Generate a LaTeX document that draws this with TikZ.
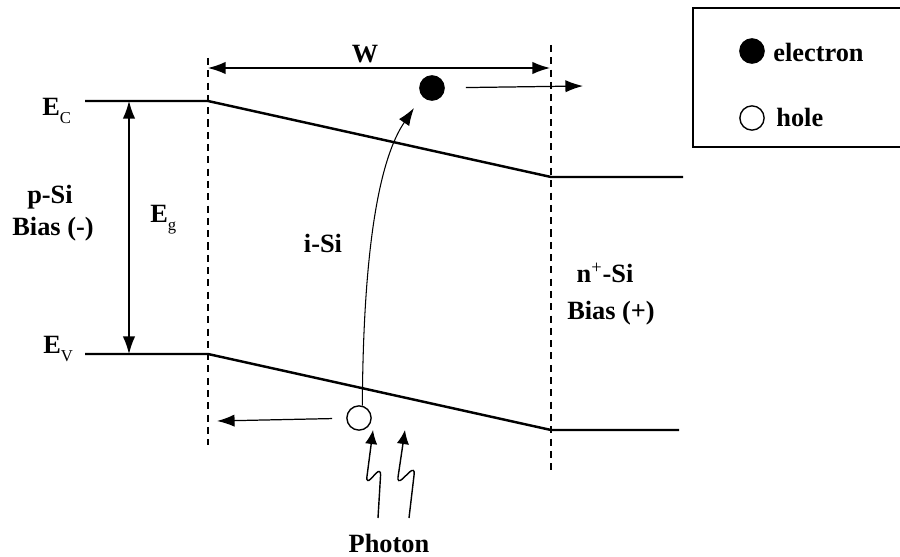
\documentclass[tikz,border=0pt]{standalone}
\usepackage{fontspec}
\setmainfont{Liberation Serif}
\usetikzlibrary{arrows.meta,positioning}
\newcommand{\lvlsub}[2]{#1\raisebox{-0.6ex}{\fontsize{9.5}{10}\selectfont\mdseries #2}}

\begin{document}
\begin{tikzpicture}[
  x=0.02cm, y=-0.02cm,
  font=\fontsize{15}{17}\selectfont\bfseries,
  band/.style={line width=1.4pt},
  edgeline/.style={line width=0.8pt, dash pattern=on 4pt off 3pt},
  arr/.style={-{Latex[length=10pt,width=7pt]}, line width=0.7pt},
  dblarr/.style={{Latex[length=10pt,width=7pt]}-{Latex[length=10pt,width=7pt]}, line width=0.7pt},
  wavearr/.style={-{Latex[length=8pt,width=7pt]}, line width=0.8pt, rounded corners=4pt},
  lbl/.style={inner sep=0pt, align=center},
  carrier/.style={circle, draw, line width=0.8pt, minimum size=13.8pt, inner sep=0pt}
]
\useasboundingbox (0,0) rectangle (900,557);

% band edges
\coordinate (cb0) at (85,101);
\coordinate (cb1) at (208,101);
\coordinate (cb2) at (551,177);
\coordinate (cb3) at (683,177);
\coordinate (vb0) at (85,354);
\coordinate (vb1) at (208,354);
\coordinate (vb2) at (551,430);
\coordinate (vb3) at (679,430);
\draw[band] (cb0) -- (cb1) -- (cb2) -- (cb3);
\draw[band] (vb0) -- (vb1) -- (vb2) -- (vb3);

% depletion region
\coordinate (d1t) at (208,58);
\coordinate (d1b) at (208,445);
\coordinate (d2t) at (551,45);
\coordinate (d2b) at (551,470);
\draw[edgeline] (d1t) -- (d1b);
\draw[edgeline] (d2t) -- (d2b);
\coordinate (wl) at (208,68);
\coordinate (wr) at (550,68);
\draw[dblarr] (wl) -- (wr);
\node[lbl] (w) at (365,54) {W};

% band gap
\coordinate (egt) at (129,101);
\coordinate (egb) at (129,354);
\draw[dblarr] (egt) -- (egb);
\node[lbl, anchor=base west] (eg) at (150,223) {\lvlsub{E}{g}};
\node[lbl, anchor=base west] (ec) at (42,116) {\lvlsub{E}{C}};
\node[lbl, anchor=base west] (ev) at (43,354) {\lvlsub{E}{V}};

% regions
\node[lbl] (psi) at (50,197) {p-Si};
\node[lbl] (pbias) at (53,229) {Bias (-)};
\node[lbl] (isi) at (323,243) {i-Si};
\node[lbl] (nsi) at (605,273) {n\textsuperscript{\mdseries +}-Si};
\node[lbl] (nbias) at (611,313) {Bias (+)};

% carriers
\node[carrier, fill=black] (ele) at (432,88) {};
\node[carrier, fill=white] (hole) at (359,418) {};
\coordinate (etip) at (583,86);
\coordinate (htip) at (217,421);
\coordinate (jump) at (414,108);
\draw[arr, shorten <=12pt] (ele) -- (etip);
\draw[arr, shorten <=8pt] (hole) -- (htip);
\draw[arr, line width=0.6pt] (hole.75) .. controls (363,290) and (372,170) .. (jump);

% photons
\coordinate (ph1) at (373,430);
\coordinate (ph2) at (405,430);
\draw[wavearr] (378,518) -- (381,468) -- (366,484) -- (ph1);
\draw[wavearr] (409,518) -- (415,467) -- (397,484) -- (ph2);
\node[lbl] (photon) at (389,543) {Photon};

% legend
\draw[line width=0.8pt] (693,8) rectangle (910,147);
\node[carrier, fill=black] (lgel) at (752,51) {};
\node[lbl, anchor=west] (lgeltxt) at (773,52) {electron};
\node[carrier] (lghole) at (752,118) {};
\node[lbl, anchor=west] (lgholetxt) at (776,117) {hole};
\end{tikzpicture}
\end{document}
